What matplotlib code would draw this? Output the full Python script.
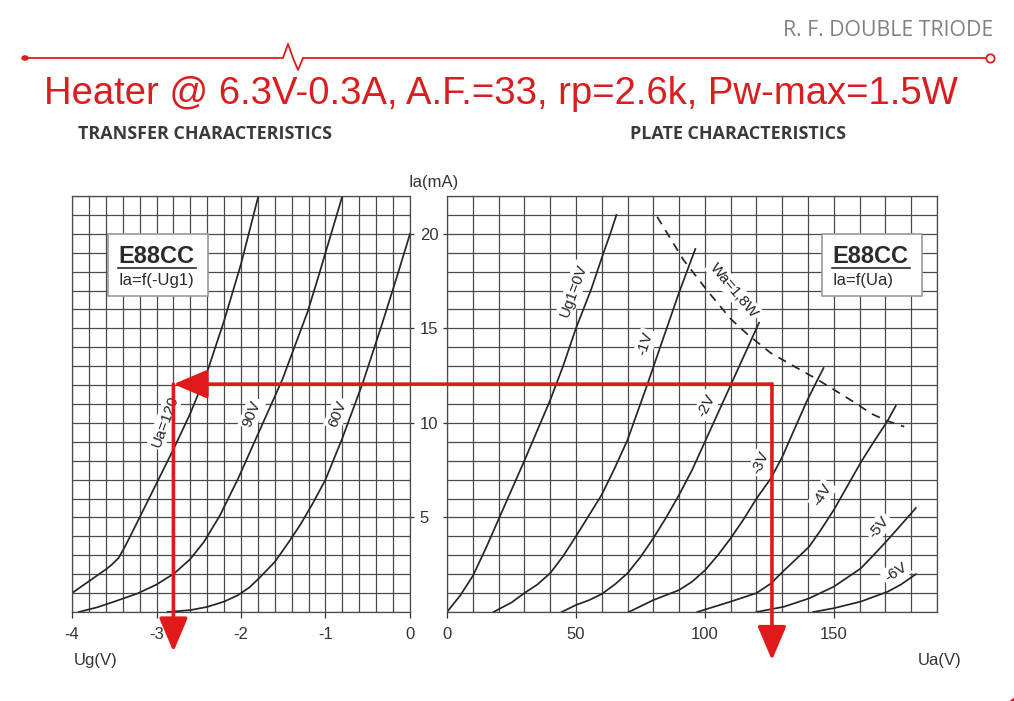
import numpy as np
import matplotlib
matplotlib.use("Agg")
import matplotlib.pyplot as plt
from matplotlib.patches import Rectangle, Circle, ConnectionPatch
from matplotlib.lines import Line2D
from matplotlib.ticker import MultipleLocator

W, H = 1014, 701

# transfer characteristics Ia = f(-Ug1)
ug_120 = [-4.0, -3.6, -3.53, -3.45, -3.38, -3.3, -3.2, -3.0, -2.8, -2.6, -2.4, -2.2, -2.0, -1.8]
ia_120 = [1.0, 2.25, 2.5, 2.85, 3.4, 4.1, 5.0, 6.8, 8.6, 10.5, 12.7, 15.4, 18.4, 21.9]
ug_90 = [-3.92, -3.7, -3.5, -3.23, -3.0, -2.79, -2.6, -2.44, -2.25, -2.04, -1.9, -1.77,
         -1.64, -1.51, -1.36, -1.21, -1.1, -1.0, -0.9, -0.8]
ia_90 = [0.0, 0.25, 0.55, 0.97, 1.45, 2.04, 2.8, 3.7, 5.1, 7.0, 8.4, 9.7,
         11.0, 12.3, 14.1, 15.9, 17.5, 19.0, 20.5, 22.0]
ug_60 = [-2.87, -2.6, -2.4, -2.2, -2.04, -1.9, -1.77, -1.6, -1.45, -1.3, -1.15, -1.0,
         -0.8, -0.56, -0.34, -0.15, 0.0]
ia_60 = [0.0, 0.1, 0.27, 0.55, 0.88, 1.3, 1.86, 2.65, 3.6, 4.6, 5.75, 7.0,
         9.2, 12.1, 15.1, 17.8, 20.0]

# plate characteristics Ia = f(Ua)
ua_g0 = [0, 5, 10, 15, 20, 25, 30, 35, 40, 45, 50, 56, 60.7, 63.3, 65.7]
ia_g0 = [0, 0.85, 1.9, 3.35, 4.9, 6.45, 8.0, 9.6, 11.2, 13.0, 15.0, 17.1, 19.0, 20.0, 21.0]
ua_g1 = [18, 25, 30, 35, 40, 45, 50, 55, 60, 65, 70, 77.6, 83.4, 90, 94.1, 96.3]
ia_g1 = [0, 0.5, 1.0, 1.45, 2.05, 2.95, 4.0, 5.1, 6.2, 7.6, 9.1, 12.0, 14.3, 16.9, 18.4, 19.2]
ua_g2 = [44.5, 50, 55, 60, 65, 70, 75, 80, 85, 90, 95, 100, 105, 110, 115, 121]
ia_g2 = [0, 0.37, 0.62, 0.95, 1.45, 2.05, 2.9, 3.9, 5.0, 6.2, 7.5, 9.0, 10.5, 12.0, 13.5, 15.3]
ua_g3 = [70.5, 80, 90, 95, 100, 105, 110, 115, 120, 125.5, 130, 134.5, 139.7, 143, 146]
ia_g3 = [0, 0.63, 1.16, 1.6, 2.2, 3.0, 3.9, 4.9, 6.0, 7.05, 8.2, 9.6, 11.2, 12.1, 12.9]
ua_g4 = [97, 110, 120, 125.5, 130.7, 135, 140.4, 145, 150, 155, 160.4, 165, 170.8, 174]
ia_g4 = [0, 0.55, 1.0, 1.5, 2.2, 2.75, 3.45, 4.35, 5.4, 6.6, 7.9, 8.9, 10.1, 10.9]
ua_g5 = [120, 130.7, 140.4, 150, 160.4, 165, 170.8, 176, 181.8]
ia_g5 = [0, 0.28, 0.72, 1.34, 2.3, 2.95, 3.8, 4.6, 5.5]
ua_g6 = [142, 150, 160.4, 170.8, 176, 181.8]
ia_g6 = [0, 0.2, 0.55, 1.07, 1.45, 2.0]

# max plate dissipation line
ua_wa = [81.5, 91.8, 100.9, 110, 116.4, 125.5, 134.5, 143.6, 159, 164.3, 170.8, 177.3]
ia_wa = [20.9, 18.6, 17.0, 15.5, 14.7, 13.7, 13.0, 12.3, 11.0, 10.5, 10.1, 9.8]

# operating point (red arrows)
ug_op = -2.8
ua_op = 126
ia_op = 12.05

transfer_labels = ["Ua=120", "90V", "60V"]
plate_labels = ["Ug1=0V", "-1V", "-2V", "-3V", "-4V", "-5V", "-6V"]

RED = "#e01a1a"
GRID = "#4a4a4a"
CURVE = "#262626"
plt.rcParams["font.family"] = ["Liberation Sans", "DejaVu Sans"]
plt.rcParams["axes.unicode_minus"] = False


def fpx(x, y):
    return x / W, 1 - y / H


fig = plt.figure(figsize=(W / 100, H / 100), dpi=100)
ax1 = fig.add_axes([72 / W, 1 - 612 / H, 338 / W, 416 / H])
ax2 = fig.add_axes([447 / W, 1 - 612 / H, 490 / W, 416 / H])

for ax in (ax1, ax2):
    ax.set_ylim(0, 22)
    ax.set_yticks([5, 10, 15, 20])
    ax.yaxis.set_minor_locator(MultipleLocator(1))
    ax.grid(which="both", color=GRID, lw=0.9)
    ax.set_axisbelow(True)
    for s in ax.spines.values():
        s.set_color(GRID)
        s.set_linewidth(0.9)
    ax.tick_params(which="minor", length=0)
    ax.tick_params(which="major", labelsize=12, colors="#333333", width=0.9)

ax1.set_xlim(-4, 0)
ax1.xaxis.set_major_locator(MultipleLocator(1))
ax1.xaxis.set_minor_locator(MultipleLocator(0.2))
ax1.tick_params(axis="x", which="major", length=4, pad=7)
ax1.tick_params(axis="y", which="major", left=False, labelleft=False,
                right=True, labelright=True, length=3, pad=4)

ax2.set_xlim(0, 190)
ax2.xaxis.set_major_locator(MultipleLocator(50))
ax2.xaxis.set_minor_locator(MultipleLocator(10))
ax2.tick_params(axis="x", which="major", length=4, pad=7)
ax2.tick_params(axis="y", which="major", length=3, labelleft=False)

# curves
for ug, ia in [(ug_120, ia_120), (ug_90, ia_90), (ug_60, ia_60)]:
    ax1.plot(ug, ia, color=CURVE, lw=1.25, solid_joinstyle="round")

plate = [(ua_g0, ia_g0), (ua_g1, ia_g1), (ua_g2, ia_g2), (ua_g3, ia_g3),
         (ua_g4, ia_g4), (ua_g5, ia_g5), (ua_g6, ia_g6)]
for ua, ia in plate:
    ax2.plot(ua, ia, color=CURVE, lw=1.25, solid_joinstyle="round")
ax2.plot(ua_wa, ia_wa, color=CURVE, lw=1.25, ls=(0, (5, 4)))

# curve labels
lab_box = dict(boxstyle="square,pad=0.15", fc="white", ec="none")
for txt, (x, y), rot in zip(transfer_labels, [(-2.9, 10.1), (-1.87, 10.5), (-0.86, 10.5)],
                            [70, 68, 68]):
    ax1.text(x, y, txt, rotation=rot, ha="center", va="center", fontsize=11,
             color="#222222", bbox=lab_box, zorder=4)

plate_pos = [(49, 17.0), (77, 14.2), (100.7, 10.9), (121.6, 7.9),
             (145.6, 6.2), (167.5, 4.5), (174, 2.1)]
plate_rot = [70, 72, 62, 66, 58, 50, 33]
for txt, (x, y), rot in zip(plate_labels, plate_pos, plate_rot):
    ax2.text(x, y, txt, rotation=rot, ha="center", va="center", fontsize=11,
             color="#222222", bbox=lab_box, zorder=4)
ax2.text(111.2, 17.0, "Wa=1,8W", rotation=-50, ha="center", va="center",
         fontsize=11, color="#222222", bbox=lab_box, zorder=4)

# E88CC boxes
for x0, x1, sub in [(108, 208, "Ia=f(-Ug1)"), (822, 922, "Ia=f(Ua)")]:
    bx, by = fpx(x0, 296)
    bw, bh = (x1 - x0) / W, 62 / H
    fig.add_artist(Rectangle((bx, by), bw, bh, transform=fig.transFigure,
                             fc="white", ec="#9a9a9a", lw=1.2, zorder=5))
    fig.text(*fpx(x0 + 10, 257), "E88CC", fontsize=17, fontweight="bold",
             color="#2a2a2a", ha="left", va="center", zorder=6)
    fig.add_artist(Line2D([(x0 + 10) / W, (x0 + 88) / W], [1 - 268 / H] * 2,
                          transform=fig.transFigure, color="#2a2a2a", lw=1.2, zorder=6))
    fig.text(*fpx(x0 + 10, 281), sub, fontsize=12, color="#2a2a2a",
             ha="left", va="center", zorder=6)

# red operating point arrows
arrow_style = "-|>,head_length=1.3,head_width=0.55"
con = ConnectionPatch(xyA=(ua_op, ia_op), coordsA=ax2.transData,
                      xyB=(ug_op, ia_op), coordsB=ax1.transData,
                      arrowstyle=arrow_style, mutation_scale=16, color=RED, lw=2.6,
                      shrinkA=0, shrinkB=0, zorder=10)
fig.add_artist(con)
ax1.annotate("", xy=(ug_op, -2.1), xytext=(ug_op, ia_op),
             arrowprops=dict(arrowstyle=arrow_style, mutation_scale=16, color=RED,
                             lw=2.6, shrinkA=0, shrinkB=0),
             annotation_clip=False, zorder=10)
ax2.annotate("", xy=(ua_op, -2.55), xytext=(ua_op, ia_op),
             arrowprops=dict(arrowstyle=arrow_style, mutation_scale=16, color=RED,
                             lw=2.6, shrinkA=0, shrinkB=0),
             annotation_clip=False, zorder=10)

# axis labels
fig.text(*fpx(434, 182), "Ia(mA)", fontsize=12, color="#333333", ha="center", va="center")
fig.text(*fpx(96, 661), "Ug(V)", fontsize=12, color="#333333", ha="center", va="center")
fig.text(*fpx(940, 661), "Ua(V)", fontsize=12, color="#333333", ha="center", va="center")

# headings
fig.text(*fpx(205, 134), "TRANSFER CHARACTERISTICS", fontsize=12.9, fontweight="bold",
         family="Open Sans", color="#3a3a3a", ha="center", va="center")
fig.text(*fpx(738, 134), "PLATE CHARACTERISTICS", fontsize=12.9, fontweight="bold",
         family="Open Sans", color="#3a3a3a", ha="center", va="center")
fig.text(*fpx(501, 94), "Heater @ 6.3V-0.3A, A.F.=33, rp=2.6k, Pw-max=1.5W",
         fontsize=27.5, color="#d81e1e", ha="center", va="center")
fig.text(*fpx(993, 30), "R. F. DOUBLE TRIODE", fontsize=15.3, family="Open Sans",
         color="#808080", ha="right", va="center")

# header rule with pulse
lx = [25, 283, 288, 293, 298, 303, 990]
ly = [58, 58, 44, 58, 70, 58, 58]
fig.add_artist(Line2D([x / W for x in lx], [1 - y / H for y in ly],
                      transform=fig.transFigure, color=RED, lw=1.3))
fig.add_artist(Circle(fpx(25, 58), 3 / W, transform=fig.transFigure, fc=RED, ec=RED))
fig.add_artist(Line2D([990 / W], [1 - 58 / H], transform=fig.transFigure, marker="o",
                      ms=6, mfc="white", mec=RED, mew=1.3))
fig.add_artist(Line2D([1030 / W], [1 - 722 / H], transform=fig.transFigure, marker="o",
                      ms=40, mfc="none", mec=RED, mew=3))

fig.savefig("out.png", dpi=100, facecolor="white")
